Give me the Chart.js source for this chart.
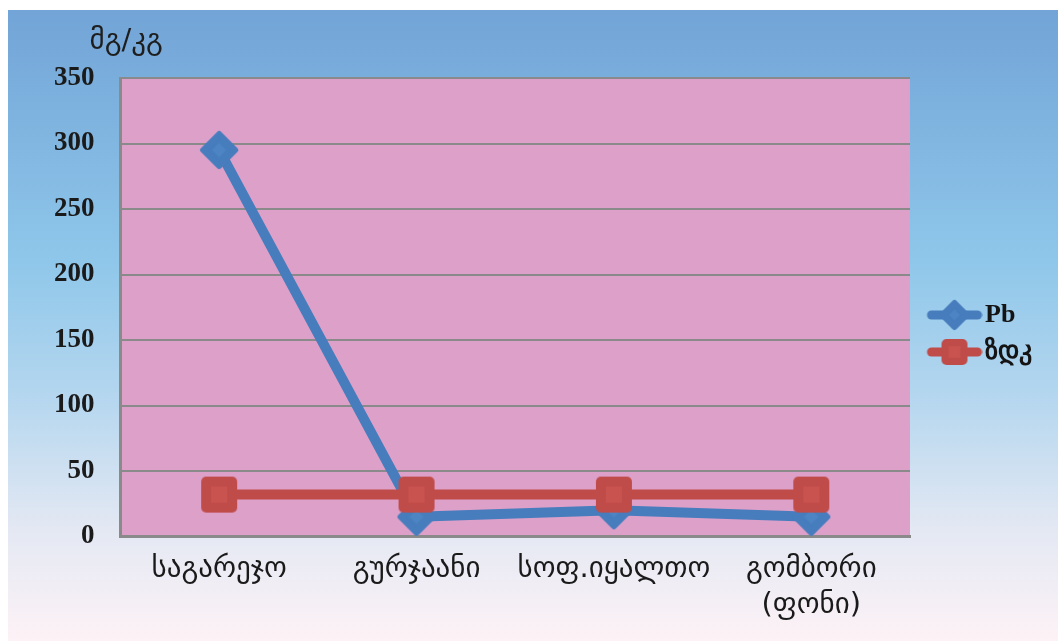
<!DOCTYPE html>
<html>
<head>
<meta charset="utf-8">
<script src="https://cdn.jsdelivr.net/npm/chart.js@4/dist/chart.umd.min.js"></script>
<style>
  html, body { margin: 0; padding: 0; background: #fff; }
  #wrap { width: 1058px; height: 641px; position: relative; }
</style>
</head>
<body>
<div id="wrap"><canvas id="leadChart"></canvas></div>
<script>
// Data
const categories = ['საგარეჯო', 'გურჯაანი', 'სოფ.იყალთო', ['გომბორი', '(ფონი)']];
const pbValues = [295, 15, 20, 15];
const zdkValues = [32, 32, 32, 32];
const seriesNames = ['Pb', 'ზდკ'];
const unitLabel = 'მგ/კგ';
const yMin = 0, yMax = 350, yStep = 50;

const BLUE = '#477dbd';
const RED = '#c04c49';

// Marker images (rounded diamond and rounded square with lighter centre)
function diamondMarker(half, color, inner) {
    const c = document.createElement('canvas');
    c.width = c.height = half * 2 + 2;
    const g = c.getContext('2d');
    const m = half + 1, r = half - 3;
    g.beginPath();
    g.moveTo(m, m - r); g.lineTo(m + r, m); g.lineTo(m, m + r); g.lineTo(m - r, m); g.closePath();
    g.fillStyle = color; g.strokeStyle = color; g.lineWidth = 6; g.lineJoin = 'round';
    g.fill(); g.stroke();
    const ir = r * 0.45;
    g.beginPath();
    g.moveTo(m, m - ir); g.lineTo(m + ir, m); g.lineTo(m, m + ir); g.lineTo(m - ir, m); g.closePath();
    g.fillStyle = inner; g.fill();
    return c;
}

function squareMarker(half, color, inner) {
    const c = document.createElement('canvas');
    c.width = c.height = half * 2 + 2;
    const g = c.getContext('2d');
    const m = half + 1;
    g.beginPath();
    g.roundRect(m - half, m - half, half * 2, half * 2, 5);
    g.fillStyle = color; g.fill();
    const ih = half * 0.45;
    g.fillStyle = inner;
    g.fillRect(m - ih, m - ih, ih * 2, ih * 2);
    return c;
}

// Legend sample: a short thick line with the marker in its middle
function legendSample(marker, color, width, offset) {
    const c = document.createElement('canvas');
    c.width = width + offset * 2;
    c.height = Math.max(marker.height, 12);
    const g = c.getContext('2d');
    const y = c.height / 2;
    const x0 = offset * 2;
    g.strokeStyle = color; g.lineWidth = 9; g.lineCap = 'round';
    g.beginPath(); g.moveTo(x0 + 5, y); g.lineTo(x0 + width - 5, y); g.stroke();
    g.drawImage(marker, x0 + width / 2 - marker.width / 2, y - marker.height / 2);
    return c;
}

const pbMarker = diamondMarker(19, BLUE, '#4d84c4');
const zdkMarker = squareMarker(18, RED, '#c8534f');
const pbLegend = legendSample(diamondMarker(15, BLUE, '#4d84c4'), BLUE, 56, 8);
const zdkLegend = legendSample(squareMarker(13, RED, '#c8534f'), RED, 56, 8);

const backgroundPlugin = {
    id: 'backgroundPlugin',
    beforeDraw(chart) {
        const { ctx, width, height, chartArea } = chart;
        ctx.save();
        ctx.fillStyle = '#ffffff';
        ctx.fillRect(0, 0, width, height);
        const grad = ctx.createLinearGradient(0, 10, 0, height);
        grad.addColorStop(0, '#72a4d7');
        grad.addColorStop(0.4, '#8fc7ea');
        grad.addColorStop(0.62, '#b6d7ef');
        grad.addColorStop(0.82, '#e3e8f3');
        grad.addColorStop(1, '#fdf2f6');
        ctx.fillStyle = grad;
        ctx.fillRect(8, 10, width - 8, height - 10);
        ctx.fillStyle = '#dda0c9';
        ctx.fillRect(chartArea.left, chartArea.top, chartArea.right - chartArea.left, chartArea.bottom - chartArea.top);
        ctx.restore();
    },
    afterDraw(chart) {
        const { ctx, chartArea } = chart;
        ctx.save();
        ctx.font = '29px "DejaVu Sans"';
        ctx.fillStyle = '#1e1e1e';
        ctx.textAlign = 'left';
        ctx.textBaseline = 'alphabetic';
        ctx.fillText(unitLabel, chartArea.left - 31, chartArea.top - 29);
        ctx.restore();
    }
};

new Chart(document.getElementById('leadChart'), {
    type: 'line',
    data: {
        labels: categories,
        datasets: [
            {
                label: seriesNames[0],
                data: pbValues,
                borderColor: BLUE,
                backgroundColor: BLUE,
                borderWidth: 10,
                borderJoinStyle: 'round',
                pointStyle: pbMarker,
                pointRadius: 19,
                order: 1
            },
            {
                label: seriesNames[1],
                data: zdkValues,
                borderColor: RED,
                backgroundColor: RED,
                borderWidth: 10,
                borderJoinStyle: 'round',
                pointStyle: zdkMarker,
                pointRadius: 18,
                order: 0
            }
        ]
    },
    options: {
        responsive: true,
        maintainAspectRatio: false,
        animation: false,
        layout: { padding: { top: 78, left: 28, right: 16, bottom: 2 } },
        plugins: {
            tooltip: { enabled: false },
            legend: {
                position: 'right',
                align: 'start',
                title: { display: true, text: ' ', padding: { top: 0, bottom: 0 }, font: { size: 213, lineHeight: 1 } },
                labels: {
                    usePointStyle: true,
                    pointStyleWidth: 51,
                    padding: 11,
                    color: '#141414',
                    font: { family: '"Liberation Serif"', size: 26, weight: 'bold' },
                    generateLabels: () => [
                        { text: seriesNames[0], pointStyle: pbLegend, datasetIndex: 0, fontColor: '#141414', lineWidth: 0, strokeStyle: BLUE, fillStyle: BLUE },
                        { text: seriesNames[1], pointStyle: zdkLegend, datasetIndex: 1, fontColor: '#141414', lineWidth: 0, strokeStyle: RED, fillStyle: RED }
                    ]
                }
            }
        },
        scales: {
            x: {
                offset: true,
                grid: { display: false, drawTicks: false },
                border: { display: true, color: '#8a8a8a', width: 3 },
                ticks: {
                    padding: 15,
                    color: '#1a1a1a',
                    maxRotation: 0,
                    autoSkip: false,
                    font: { family: '"DejaVu Sans"', size: 29, lineHeight: 1.25 }
                }
            },
            y: {
                min: yMin,
                max: yMax,
                grid: { color: '#8a8a8a', lineWidth: 2, drawTicks: false },
                border: { display: true, color: '#8a8a8a', width: 3 },
                ticks: {
                    stepSize: yStep,
                    padding: 26,
                    color: '#1a1a1a',
                    font: { family: '"Liberation Serif"', size: 27, weight: 'bold' }
                }
            }
        }
    },
    plugins: [backgroundPlugin]
});
</script>
</body>
</html>
